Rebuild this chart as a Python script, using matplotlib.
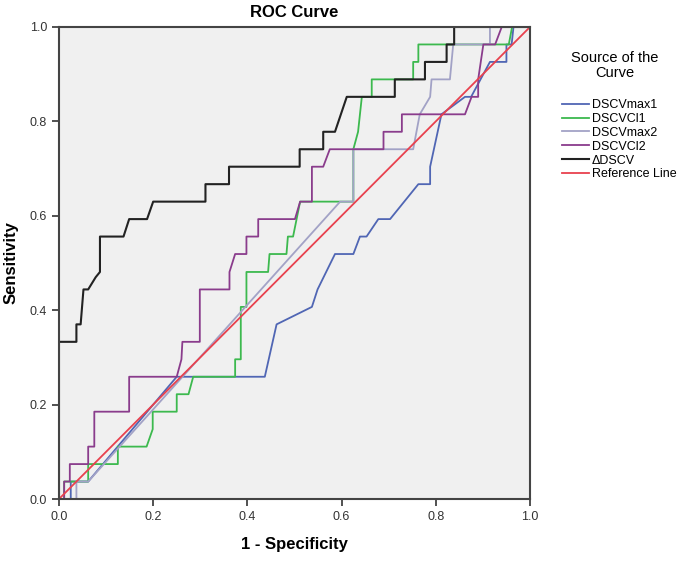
import matplotlib
matplotlib.use('Agg')
import matplotlib.pyplot as plt

plt.rcParams['font.family'] = ['Liberation Sans', 'DejaVu Sans']

# 1 - specificity / sensitivity
max1_x = [0, 0.025, 0.025, 0.062, 0.25, 0.437, 0.462, 0.537, 0.549, 0.586, 0.625, 0.639, 0.653,
          0.678, 0.703, 0.763, 0.788, 0.788, 0.812, 0.862, 0.875, 0.915, 0.950, 0.950, 0.961, 0.965, 1.0]
max1_y = [0, 0, 0.037, 0.037, 0.259, 0.259, 0.370, 0.407, 0.444, 0.519, 0.519, 0.556, 0.556,
          0.593, 0.593, 0.667, 0.667, 0.704, 0.815, 0.852, 0.852, 0.926, 0.926, 0.963, 0.963, 1.0, 1.0]

cl1_x = [0, 0.011, 0.011, 0.062, 0.062, 0.125, 0.125, 0.186, 0.199, 0.199, 0.25, 0.25, 0.275, 0.285,
         0.374, 0.374, 0.386, 0.386, 0.398, 0.398, 0.444, 0.447, 0.483, 0.486, 0.497, 0.512, 0.625,
         0.625, 0.635, 0.643, 0.664, 0.664, 0.752, 0.752, 0.763, 0.763, 0.955, 0.962, 1.0]
cl1_y = [0, 0, 0.037, 0.037, 0.074, 0.074, 0.111, 0.111, 0.148, 0.185, 0.185, 0.222, 0.222, 0.259,
         0.259, 0.296, 0.296, 0.407, 0.407, 0.481, 0.481, 0.519, 0.519, 0.556, 0.556, 0.630, 0.630,
         0.741, 0.778, 0.852, 0.852, 0.889, 0.889, 0.926, 0.926, 0.963, 0.963, 1.0, 1.0]

max2_x = [0, 0.037, 0.037, 0.062, 0.597, 0.625, 0.625, 0.752, 0.766, 0.788, 0.791, 0.830, 0.837,
          0.915, 0.915, 1.0]
max2_y = [0, 0, 0.037, 0.037, 0.630, 0.630, 0.741, 0.741, 0.815, 0.852, 0.889, 0.889, 0.963,
          0.963, 1.0, 1.0]

cl2_x = [0, 0.011, 0.011, 0.023, 0.023, 0.062, 0.062, 0.075, 0.075, 0.149, 0.149, 0.250, 0.260,
         0.262, 0.299, 0.299, 0.362, 0.362, 0.374, 0.398, 0.398, 0.423, 0.423, 0.501, 0.512, 0.537,
         0.537, 0.561, 0.575, 0.689, 0.689, 0.728, 0.728, 0.862, 0.876, 0.890, 0.890, 0.901, 0.926,
         0.940, 1.0]
cl2_y = [0, 0, 0.037, 0.037, 0.074, 0.074, 0.111, 0.111, 0.185, 0.185, 0.259, 0.259, 0.296,
         0.333, 0.333, 0.444, 0.444, 0.481, 0.519, 0.519, 0.556, 0.556, 0.593, 0.593, 0.630, 0.630,
         0.704, 0.704, 0.741, 0.741, 0.778, 0.778, 0.815, 0.815, 0.852, 0.852, 0.889, 0.963, 0.963,
         1.0, 1.0]

d_x = [0, 0, 0.037, 0.037, 0.046, 0.052, 0.062, 0.078, 0.087, 0.087, 0.137, 0.149, 0.187, 0.200,
       0.311, 0.311, 0.361, 0.361, 0.511, 0.511, 0.561, 0.561, 0.586, 0.611, 0.713, 0.713, 0.777,
       0.777, 0.823, 0.823, 0.839, 0.839, 1.0]
d_y = [0, 0.333, 0.333, 0.370, 0.370, 0.444, 0.444, 0.470, 0.481, 0.556, 0.556, 0.593, 0.593, 0.630,
       0.630, 0.667, 0.667, 0.704, 0.704, 0.741, 0.741, 0.778, 0.778, 0.852, 0.852, 0.889, 0.889,
       0.926, 0.926, 0.963, 0.963, 1.0, 1.0]

ref_x = [0, 1]
ref_y = [0, 1]

fig = plt.figure(figsize=(6.85, 5.61), dpi=100)
ax = fig.add_axes([0.0861, 0.1105, 0.6876, 0.8414])
ax.set_facecolor('#f0f0f0')

ax.plot(max1_x, max1_y, color='#5066b4', lw=1.3, label='DSCVmax1')
ax.plot(cl1_x, cl1_y, color='#3cb94e', lw=1.3, label='DSCVCl1')
ax.plot(max2_x, max2_y, color='#a2a2c6', lw=1.3, label='DSCVmax2')
ax.plot(cl2_x, cl2_y, color='#8a3c8c', lw=1.3, label='DSCVCl2')
ax.plot(d_x, d_y, color='#222222', lw=1.5, label='\u0394DSCV')
ax.plot(ref_x, ref_y, color='#e8414e', lw=1.3, label='Reference Line')

ax.set_xlim(0, 1)
ax.set_ylim(0, 1)
ax.set_xticks([0, 0.2, 0.4, 0.6, 0.8, 1.0])
ax.set_yticks([0, 0.2, 0.4, 0.6, 0.8, 1.0])
ax.set_xticklabels(['0.0', '0.2', '0.4', '0.6', '0.8', '1.0'])
ax.set_yticklabels(['0.0', '0.2', '0.4', '0.6', '0.8', '1.0'])
ax.tick_params(direction='out', length=5, width=1.2, colors='#333333', labelsize=9, labelcolor='#333333')
for s in ax.spines.values():
    s.set_color('#444444')
    s.set_linewidth(1.5)

ax.set_title('ROC Curve', fontsize=12, fontweight='bold', pad=7)
ax.set_xlabel('1 - Specificity', fontsize=12, fontweight='bold', labelpad=10)
ax.set_ylabel('Sensitivity', fontsize=12, fontweight='bold', labelpad=8)

# legend title drawn on its own, SPSS leaves a gap below it
fig.text(0.898, 0.909, 'Source of the\nCurve', ha='center', va='top', fontsize=10.5,
         multialignment='center', linespacing=1.1)
fig.legend(loc='upper left', bbox_to_anchor=(0.807, 0.839), frameon=False,
           fontsize=9, handlelength=2.2, handletextpad=0.2, labelspacing=0.15,
           borderpad=0.2)

fig.savefig('out.png', dpi=100)
